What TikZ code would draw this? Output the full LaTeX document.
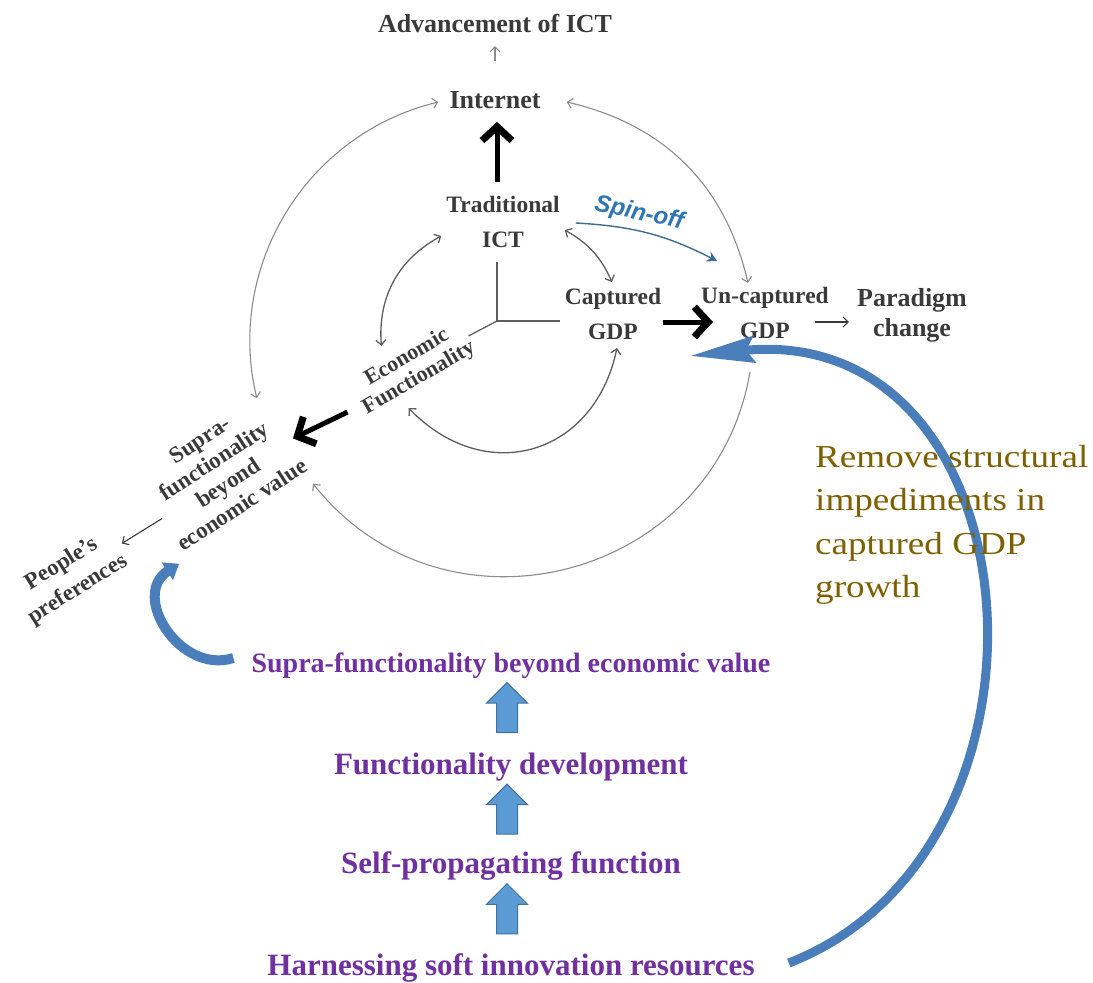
\documentclass[tikz,border=0pt]{standalone}
\usepackage{fontspec}
\setmainfont{Liberation Serif}
\setsansfont{Liberation Sans}
\newfontfamily\widefont[FakeStretch=1.16]{Liberation Serif}
\usetikzlibrary{positioning}
\usetikzlibrary{calc}
\usetikzlibrary{arrows.meta}
\usetikzlibrary{shapes.arrows}
\definecolor{labelgray}{HTML}{3A3A3A}
\definecolor{ringgray}{HTML}{8C8C8C}
\definecolor{innergray}{HTML}{5E5E5E}
\definecolor{spinblue}{HTML}{2E75B6}
\definecolor{spinline}{HTML}{3F6A94}
\definecolor{stepviolet}{HTML}{7030A0}
\definecolor{noteolive}{HTML}{7F6000}
\definecolor{bigblue}{HTML}{4A7EBB}
\definecolor{blockfill}{HTML}{5B9BD5}
\definecolor{blockedge}{HTML}{41719C}
\tikzset{
  lbl/.style={font=\fontsize{23.5}{35}\selectfont\bfseries, text=labelgray, align=center, inner sep=2pt},
  tilted/.style={font=\fontsize{23}{26}\selectfont\bfseries, text=labelgray, align=center, inner sep=1pt},
  steplbl/.style={text=stepviolet, inner sep=3pt},
  spinlbl/.style={font=\fontsize{24}{26}\selectfont\sffamily\bfseries\itshape, text=spinblue, inner sep=1pt},
  fatarrow/.style={line width=5pt, -{Straight Barb[length=14pt,width=30pt,line width=7pt]}},
  ringarc/.style={ringgray, line width=1.1pt, {Straight Barb[length=5pt,width=10pt]}-{Straight Barb[length=5pt,width=10pt]}},
  ringarrow/.style={ringgray, line width=1.1pt, -{Straight Barb[length=5pt,width=10pt]}},
  innerarc/.style={innergray, line width=1.3pt, {Straight Barb[length=5pt,width=10pt]}-{Straight Barb[length=5pt,width=10pt]}},
  thinarrow/.style={labelgray, line width=1.1pt, -{Straight Barb[length=5pt,width=10pt]}},
  hubline/.style={innergray, line width=1.3pt},
  blockarrow/.style={single arrow, draw=blockedge, fill=blockfill, line width=1pt, rotate=90,
    minimum height=50pt, inner xsep=0pt, inner ysep=10pt, single arrow head extend=10pt},
}

\begin{document}
\begin{tikzpicture}[x=1pt,y=-1pt]
\useasboundingbox (0,0) rectangle (1093,983);

% labels on the loop
\node[lbl, font=\fontsize{26}{30}\selectfont\bfseries] (inet) at (495,100) {Internet};
\node[lbl, font=\fontsize{26}{30}\selectfont\bfseries] (adv) [above=54pt of inet] {Advancement of ICT};
\node[lbl] (trad) at (503,222) {Traditional\\ICT};
\node[lbl] (capt) at (613,314) {Captured\\GDP};
\node[lbl] (uncapt) at (765,313) {Un-captured\\GDP};
\node[lbl, font=\fontsize{26}{30}\selectfont\bfseries] (para) at (912,315) {Paradigm\\change};
\node[tilted, rotate=30, font=\fontsize{22}{24}\selectfont\bfseries] (econ) at (413,368) {Economic\\Functionality};
\node[tilted, rotate=33] (supra) at (221,472) {Supra-\\functionality\\beyond\\economic value};
\node[tilted, rotate=32, font=\fontsize{23}{30}\selectfont\bfseries] (people) at (70,577) {People's\\preferences};
\coordinate (hub) at (497,321);

% steps at the bottom
\node[steplbl, font=\fontsize{28}{34}\selectfont\bfseries] (suprastep) at (511,666) {Supra-functionality beyond economic value};
\node[steplbl, font=\fontsize{31}{36}\selectfont\bfseries] (funcdev) at (511,767) {Functionality development};
\node[steplbl, font=\fontsize{31}{36}\selectfont\bfseries] (selfprop) at (511,866) {Self-propagating function};
\node[steplbl, font=\fontsize{31}{36}\selectfont\bfseries] (harness) at (511,968) {Harnessing soft innovation resources};

\node[blockarrow] (up1) at ($(funcdev.north)!0.5!(suprastep.south)+(-4,-3)$) {};
\node[blockarrow] (up2) at ($(selfprop.north)!0.5!(funcdev.south)+(-4,-2)$) {};
\node[blockarrow] (up3) at ($(harness.north)!0.5!(selfprop.south)+(-4,-3)$) {};

% outer loop
\draw[ringarc] ([shift={(-9,2)}]inet.west) to[bend right=45] ([shift={(-2,8)}]supra.north east);
\draw[ringarc] ([shift={(24,2)}]inet.east) to[bend left=32] ([shift={(-17,-2)}]uncapt.north);
\draw[ringarrow] ([shift={(-15,31)}]uncapt.south) to[bend left=66, looseness=1.2] ([shift={(2,13)}]supra.south east);

% inner loop
\draw[innerarc] ([shift={(-3,14)}]trad.west) to[bend right=33] ([shift={(-20,-2)}]econ.north);
\draw[innerarc] ([shift={(3,8)}]trad.east) to[bend left=18] ([shift={(-1,-4)}]capt.north);
\draw[innerarc] ([shift={(-16,20)}]econ.south) to[bend right=62, looseness=1.3] ([shift={(4,6)}]capt.south);

% the three-way hub
\draw[hubline, shorten >=12pt] (hub) -- (hub |- trad.south);
\draw[hubline, shorten >=3pt] (hub) -- (hub -| capt.west);
\draw[hubline] (hub) -- (econ.east);

% heavy arrows
\draw[fatarrow, shorten <=12pt, shorten >=11pt] ([xshift=-6pt]trad.north) -- ([xshift=2pt]inet.south);
\draw[fatarrow] ([shift={(0,8)}]capt.east) -- ([shift={(14,9)}]uncapt.west);
\draw[fatarrow] ([shift={(-10,12)}]econ.west) -- ([shift={(8,8)}]supra.east);

% light arrows
\draw[ringarrow, shorten <=28pt, shorten >=11pt] (inet.north) -- (adv.south);
\draw[thinarrow] ([shift={(-16,9)}]uncapt.east) -- ([shift={(-6,7)}]para.west);
\draw[thinarrow] ([shift={(5,5)}]supra.west) -- ([shift={(3,-3)}]people.east);

% spin-off
\draw[spinline, line width=1.4pt, -{Stealth[length=10pt,width=11pt]}] ([shift={(14,1)}]trad.east)
  to[bend left=12] node[spinlbl, pos=0.4, above=4pt, sloped] (spin) {Spin-off} ([shift={(18,-24)}]uncapt.north west);

% blue curved arrows
\draw[bigblue, line width=9pt, -{Stealth[length=64pt,width=26pt,inset=8pt]}] ([shift={(31,-5)}]harness.east)
  .. controls (1080,850) and (1040,320) .. ([shift={(-9,15)}]uncapt.south west);
\draw[bigblue, line width=10pt, -{Triangle[length=14pt,width=20pt]}] ([shift={(-15,-8)}]suprastep.west)
  .. controls (180,675) and (130,595) .. ([shift={(-4,10)}]supra.south west);

\node[anchor=north west, inner sep=0pt, align=left, text=noteolive, font=\widefont\fontsize{32}{43.5}\selectfont] (remove) at (815,445)
  {Remove structural\\impediments in\\captured GDP\\growth};
\end{tikzpicture}
\end{document}
